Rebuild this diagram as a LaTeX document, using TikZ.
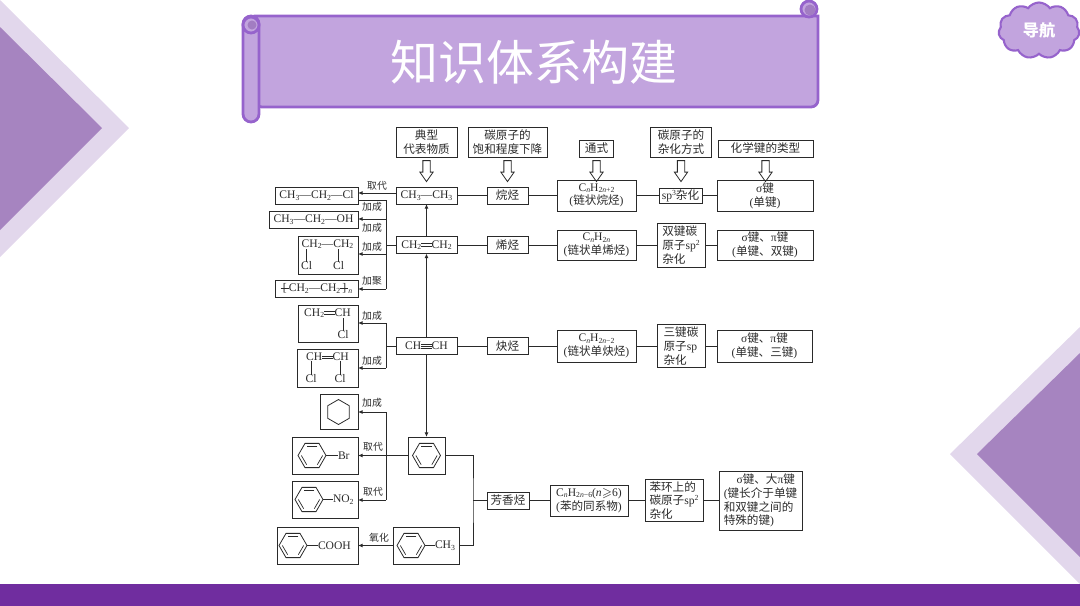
\documentclass[tikz,border=0pt]{standalone}
\usepackage{amsmath, amssymb}
\usepackage{fontspec}
\setmainfont{Liberation Serif}
\newfontfamily\cjkfont{Noto Sans CJK SC}
\usetikzlibrary{arrows.meta, calc, shapes.arrows, shapes.geometric, shapes.symbols}
\definecolor{DeepPurple}{HTML}{702D9F}
\definecolor{RibbonFill}{HTML}{C2A4DE}
\definecolor{RibbonLine}{HTML}{9663CC}
\definecolor{RollFill}{HTML}{A27DC2}
\definecolor{WedgeDark}{HTML}{A684C0}
\definecolor{WedgeLight}{HTML}{E2D7EC}
\definecolor{InkGray}{HTML}{2A2A2A}
\newcommand{\zh}[1]{{\cjkfont #1}}
\newcommand{\lo}[1]{\raisebox{-0.28ex}{\fontsize{4.4}{4.4}\selectfont #1}}
\newcommand{\hi}[1]{\raisebox{0.75ex}{\fontsize{4.4}{4.4}\selectfont #1}}
\newcommand{\dbond}{\makebox[0.9em]{\rlap{\rule[0.17em]{0.9em}{0.35pt}}\rule[0.36em]{0.9em}{0.35pt}}}
\newcommand{\tbond}{\makebox[0.9em]{\rlap{\rule[0.1em]{0.9em}{0.35pt}}\rlap{\rule[0.27em]{0.9em}{0.35pt}}\rule[0.44em]{0.9em}{0.35pt}}}
\newcommand{\polyL}{\ooalign{\hidewidth[\hidewidth\cr\rule[0.25em]{0.7em}{0.35pt}\cr}}
\newcommand{\polyR}{\ooalign{\hidewidth]\hidewidth\cr\rule[0.25em]{0.7em}{0.35pt}\cr}}
\newcommand{\benzenering}[3]{
    \node[ring] (#1) at (#2, #3) {};
    \draw[bondline] ($(#1.center)!0.76!(#1.corner 1)$) -- ($(#1.center)!0.76!(#1.corner 2)$);
    \draw[bondline] ($(#1.center)!0.76!(#1.corner 3)$) -- ($(#1.center)!0.76!(#1.corner 4)$);
    \draw[bondline] ($(#1.center)!0.76!(#1.corner 5)$) -- ($(#1.center)!0.76!(#1.corner 6)$);
}

\begin{document}
\begin{tikzpicture}[
                x=0.02cm, y=-0.02cm,
                wh/.style 2 args={minimum width=#1*0.02cm, minimum height=#2*0.02cm},
                box/.style={draw=InkGray, line width=0.55pt, text=InkGray, inner sep=0pt, outer sep=0pt, align=center, font=\fontsize{6.6}{7.8}\selectfont},
                leftbox/.style={box, align=left},
                chem/.style={inner sep=0pt, outer sep=0pt, text=InkGray, font=\fontsize{6.6}{7.8}\selectfont},
                tag/.style={inner sep=0pt, outer sep=0pt, text=InkGray, font=\fontsize{5.6}{6.6}\selectfont},
                link/.style={draw=InkGray, line width=0.55pt},
                bondline/.style={draw=InkGray, line width=0.4pt},
                arrowto/.style={link, -{Latex[length=2.6pt, width=2.2pt]}},
                hollow/.style={draw=InkGray, line width=0.45pt, fill=white, single arrow, shape border rotate=270, single arrow tip angle=70, single arrow head indent=0pt, single arrow head extend=0.06cm, minimum height=0.42cm, minimum width=0.25cm, text width=0.13cm, inner sep=0pt, outer sep=0pt},
                ring/.style={draw=InkGray, line width=0.45pt, regular polygon, regular polygon sides=6, minimum size=0.56cm, inner sep=0pt, outer sep=0pt},
                ribbon/.style={draw=RibbonLine, fill=RibbonFill, line width=1.6pt}
            ]
                \useasboundingbox (0, 0) rectangle (1080, 606);

                % Corner wedges and bottom band
                \fill[WedgeLight] (0, 0) -- (129, 128) -- (0, 257) -- cycle;
                \fill[WedgeDark] (0, 27) -- (102, 128) -- (0, 230) -- cycle;
                \fill[WedgeLight] (1080, 327) -- (950, 454) -- (1080, 584) -- cycle;
                \fill[WedgeDark] (1080, 353) -- (977, 454) -- (1080, 557) -- cycle;
                \fill[DeepPurple] (0, 584) rectangle (1080, 606);

                % Title ribbon
                \draw[ribbon] (255, 16) -- (818, 16) [rounded corners=0.14cm] -- (818, 107) -- (255, 107) [sharp corners] -- cycle;
                \draw[ribbon] (809, 9) circle[radius=8];
                \fill[RollFill] (810, 10) circle[radius=5.5];
                \draw[ribbon, rounded corners=0.16cm] (243, 16) rectangle (259, 122);
                \draw[ribbon] (251, 25) circle[radius=8];
                \fill[RollFill] (252, 25) circle[radius=4.5];
                \node[inner sep=0pt, text=white, font=\fontsize{27.3}{30}\selectfont] (ribbontitle) at (534, 62) {\zh{知识体系构建}};

                % Navigation cloud
                \node[cloud, cloud puffs=11, cloud puff arc=110, aspect=1.45, draw=RibbonLine, fill=RibbonFill, line width=1.2pt, minimum width=1.62cm, minimum height=1.12cm, inner sep=0pt, text=white, font=\fontsize{9.2}{11}\selectfont\bfseries] (navcloud) at (1039, 30.5) {\zh{导航}\hspace{3pt}};

                % Column headings
                \node[box, wh={61}{30}] (headA) at (426.5, 142) {\zh{典型}\\\zh{代表物质}};
                \node[box, wh={79}{30}] (headB) at (507.5, 142) {\zh{碳原子的}\\\zh{饱和程度下降}};
                \node[box, wh={34}{17}] (headC) at (596.5, 148.5) {\zh{通式}};
                \node[box, wh={61}{30}] (headD) at (681, 142) {\zh{碳原子的}\\\zh{杂化方式}};
                \node[box, wh={95}{17}] (headE) at (765.5, 148.5) {\zh{化学键的类型}};
                \coordinate (arrowmid) at (0, 168.5);
                \foreach \head in {headA, headB, headC, headD, headE}
                    \node[hollow] (arrow\head) at (\head.south |- arrowmid) {};

                % Alkane row
                \node[box, wh={61}{17}] (ethane) at (426.5, 195.5) {CH\lo{3}—CH\lo{3}};
                \node[box, wh={41}{17}] (alkane) at (507.5, 195.5) {\zh{烷烃}};
                \node[box, wh={79}{31}] (formulaA) at (596.5, 195.5) {C\lo{\textit{n}}H\lo{2\textit{n}+2}\\(\zh{链状烷烃})};
                \node[box, wh={43}{15}] (hybridA) at (680.5, 195.5) {sp\hi{3}\zh{杂化}};
                \node[box, wh={96}{31}] (bondA) at (765, 195.5) {σ\zh{键}\\(\zh{单键})};

                % Alkene row
                \node[box, wh={61}{17}] (ethene) at (426.5, 245) {CH\lo{2}\dbond CH\lo{2}};
                \node[box, wh={41}{17}] (alkene) at (507.5, 245) {\zh{烯烃}};
                \node[box, wh={79}{30}] (formulaB) at (596.5, 245) {C\lo{\textit{n}}H\lo{2\textit{n}}\\(\zh{链状单烯烃})};
                \node[leftbox, wh={48}{44}] (hybridB) at (681, 245) {\zh{双键碳}\\\zh{原子}sp\hi{2}\\\zh{杂化}};
                \node[box, wh={96}{30}] (bondB) at (765, 245) {σ\zh{键、}π\zh{键}\\(\zh{单键、双键})};

                % Alkyne row
                \node[box, wh={61}{17}] (ethyne) at (426.5, 346) {CH\tbond CH};
                \node[box, wh={41}{17}] (alkyne) at (507.5, 346) {\zh{炔烃}};
                \node[box, wh={79}{32}] (formulaC) at (596.5, 346) {C\lo{\textit{n}}H\lo{2\textit{n}−2}\\(\zh{链状单炔烃})};
                \node[leftbox, wh={48}{43}] (hybridC) at (681, 346) {\zh{三键碳}\\\zh{原子}sp\\\zh{杂化}};
                \node[box, wh={95}{32}] (bondC) at (764.5, 346) {σ\zh{键、}π\zh{键}\\(\zh{单键、三键})};

                % Arene row
                \node[box, wh={42}{17}] (arene) at (508, 500.5) {\zh{芳香烃}};
                \node[box, wh={78}{31}] (formulaD) at (589, 500.5) {C\lo{\textit{n}}H\lo{2\textit{n}−6}(\textit{n}$\geqslant$6)\\(\zh{苯的同系物})};
                \node[leftbox, wh={58}{42}] (hybridD) at (674, 500.5) {\zh{苯环上的}\\\zh{碳原子}sp\hi{2}\\\zh{杂化}};
                \node[leftbox, wh={83}{59}] (bondD) at (760.5, 500.5) {\hspace{1.1em}σ\zh{键、大}π\zh{键}\\(\zh{键长介于单键}\\\zh{和双键之间的}\\\zh{特殊的键})};

                % Products of ethane and ethene
                \node[box, wh={83}{17}] (chloroethane) at (316.5, 195.5) {CH\lo{3}—CH\lo{2}—Cl};
                \node[box, wh={89}{17}] (ethanol) at (313.5, 219.5) {CH\lo{3}—CH\lo{2}—OH};
                \node[box, wh={60}{38}] (dichloroethane) at (328, 255) {};
                \node[chem] (dceTop) at (327.5, 244) {CH\lo{2}—CH\lo{2}};
                \node[chem] (dceClA) at (306.5, 266) {Cl};
                \node[chem] (dceClB) at (338.5, 266) {Cl};
                \draw[bondline] (dceClA.north) -- (dceClA.north |- dceTop.south);
                \draw[bondline] (dceClB.north) -- (dceClB.north |- dceTop.south);
                \node[box, wh={83}{17}] (polyethene) at (316.5, 288.5) {\polyL CH\lo{2}—CH\lo{2}\polyR\lo{\textit{n}}};

                % Products of ethyne
                \node[box, wh={60}{37}] (vinylchloride) at (328, 323.5) {};
                \node[chem] (vcTop) at (327.5, 313) {CH\lo{2}\dbond CH};
                \node[chem] (vcCl) at (343, 335) {Cl};
                \draw[bondline] (vcCl.north) -- (vcCl.north |- vcTop.south);
                \node[box, wh={61}{38}] (dichloroethene) at (327.5, 368) {};
                \node[chem] (dcnTop) at (327.5, 357) {CH\dbond CH};
                \node[chem] (dcnClA) at (311, 379) {Cl};
                \node[chem] (dcnClB) at (340, 379) {Cl};
                \draw[bondline] (dcnClA.north) -- (dcnClA.north |- dcnTop.south);
                \draw[bondline] (dcnClB.north) -- (dcnClB.north |- dcnTop.south);

                % Benzene and its products
                \node[box, wh={38}{35}] (cyclohexane) at (339, 411.5) {};
                \node[ring, shape border rotate=30, minimum size=0.5cm] (cycloring) at (338.5, 412) {};
                \node[box, wh={37}{37}] (benzene) at (426.5, 455.5) {};
                \benzenering{benzenecore}{426.5}{455.5}
                \node[box, wh={66}{37}] (bromobenzene) at (325, 455.5) {};
                \benzenering{brring}{312}{455.5}
                \node[chem, anchor=west] (brtext) at (338, 455.5) {Br};
                \draw[bondline] (brring.corner 6) -- (brtext.west);
                \node[box, wh={66}{37}] (nitrobenzene) at (325, 499.5) {};
                \benzenering{noring}{309}{499.5}
                \node[chem, anchor=west] (notext) at (333, 499.5) {NO\lo{2}};
                \draw[bondline] (noring.corner 6) -- (notext.west);
                \node[box, wh={81}{37}] (benzoicacid) at (317.5, 545.5) {};
                \benzenering{acidring}{293}{545.5}
                \node[chem, anchor=west] (acidtext) at (318, 545.5) {COOH};
                \draw[bondline] (acidring.corner 6) -- (acidtext.west);
                \node[box, wh={66}{37}] (toluene) at (426, 545.5) {};
                \benzenering{tolring}{411}{545.5}
                \node[chem, anchor=west] (toltext) at (435, 545.5) {CH\lo{3}};
                \draw[bondline] (tolring.corner 6) -- (toltext.west);

                % Row links
                \draw[link] (ethane) -- (alkane);
                \draw[link] (alkane) -- (formulaA);
                \draw[link] (formulaA) -- (hybridA);
                \draw[link] (hybridA) -- (bondA);
                \draw[link] (ethene) -- (alkene);
                \draw[link] (alkene) -- (formulaB);
                \draw[link] (formulaB) -- (hybridB);
                \draw[link] (hybridB) -- (bondB);
                \draw[link] (ethyne) -- (alkyne);
                \draw[link] (alkyne) -- (formulaC);
                \draw[link] (formulaC) -- (hybridC);
                \draw[link] (hybridC) -- (bondC);
                \draw[link] (arene) -- (formulaD);
                \draw[link] (formulaD) -- (hybridD);
                \draw[link] (hybridD) -- (bondD);

                % Central column
                \draw[arrowto] (ethene) -- (ethane);
                \draw[arrowto] (ethyne) -- (ethene);
                \draw[arrowto] (ethyne) -- (benzene);

                % Ethene branch
                \coordinate (busAa) at (386, 200);
                \coordinate (busAb) at (386, 219);
                \coordinate (busAc) at (386, 254);
                \coordinate (busAd) at (386, 289);
                \draw[arrowto] ([yshift=0.05cm]ethane.west) -- ([yshift=0.05cm]chloroethane.east);
                \draw[link] (ethene) -- (ethene -| busAa);
                \draw[link] (busAa) -- (busAd);
                \draw[link] (busAa) -- (busAa -| chloroethane.east);
                \draw[arrowto] (busAb) -- (busAb -| ethanol.east);
                \draw[arrowto] (busAc) -- (busAc -| dichloroethane.east);
                \draw[arrowto] (busAd) -- (busAd -| polyethene.east);

                % Ethyne branch
                \coordinate (busBa) at (386, 323);
                \coordinate (busBb) at (386, 368);
                \draw[link] (ethyne) -- (ethyne -| busBa);
                \draw[link] (busBa) -- (busBb);
                \draw[arrowto] (busBa) -- (busBa -| vinylchloride.east);
                \draw[arrowto] (busBb) -- (busBb -| dichloroethene.east);

                % Benzene branch
                \coordinate (busCa) at (386, 412);
                \coordinate (busCb) at (386, 500);
                \coordinate (arenejoin) at (473, 500.5);
                \draw[arrowto] (benzene) -- (bromobenzene);
                \draw[link] (busCa) -- (busCb);
                \draw[arrowto] (busCa) -- (busCa -| cyclohexane.east);
                \draw[arrowto] (busCb) -- (busCb -| nitrobenzene.east);
                \draw[link] (benzene.east) -| (arenejoin) |- (toluene.east);
                \draw[link] (arenejoin) -- (arene);
                \draw[arrowto] (toluene) -- (benzoicacid);

                % Reaction names
                \node[tag] (tagA) at (377, 186) {\zh{取代}};
                \node[tag] (tagB) at (372, 207) {\zh{加成}};
                \node[tag] (tagC) at (372, 228) {\zh{加成}};
                \node[tag] (tagD) at (372, 247) {\zh{加成}};
                \node[tag] (tagE) at (372, 281) {\zh{加聚}};
                \node[tag] (tagF) at (372, 316) {\zh{加成}};
                \node[tag] (tagG) at (372, 361) {\zh{加成}};
                \node[tag] (tagH) at (372, 403) {\zh{加成}};
                \node[tag] (tagI) at (373, 447) {\zh{取代}};
                \node[tag] (tagJ) at (373, 492) {\zh{取代}};
                \node[tag] (tagK) at (379, 538) {\zh{氧化}};
            \end{tikzpicture}
\end{document}
